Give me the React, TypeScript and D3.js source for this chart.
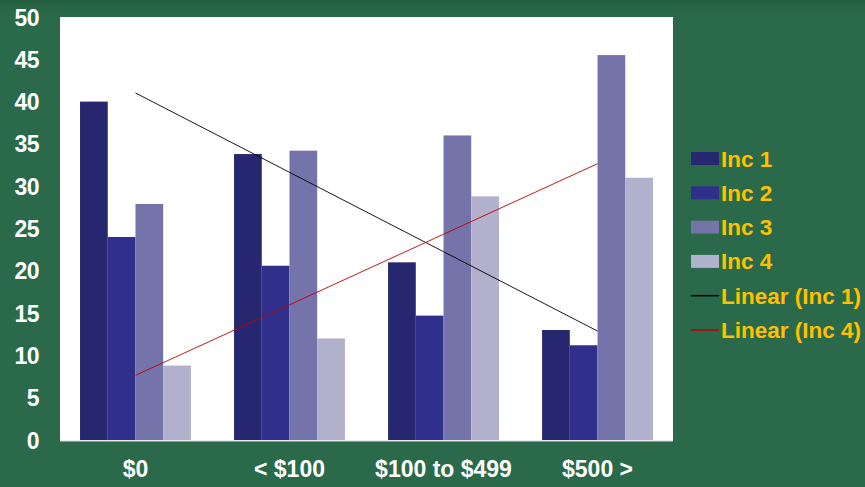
import React from "react";
import * as d3 from "d3";

const categories = ["$0", "< $100", "$100 to $499", "$500 >"];
const seriesNames = ["Inc 1", "Inc 2", "Inc 3", "Inc 4"];
const inc1 = [40, 33.8, 21, 13];
const inc2 = [24, 20.6, 14.7, 11.2];
const inc3 = [27.9, 34.2, 36, 45.5];
const inc4 = [8.8, 12, 28.8, 31];
const yTicks = [0, 5, 10, 15, 20, 25, 30, 35, 40, 45, 50];
const colors = ["#27276f", "#30308c", "#7474aa", "#b1b1cd"];
const trendNames = ["Linear (Inc 1)", "Linear (Inc 4)"];
const trendColors = ["#000000", "#c00000"];

function linreg(vals: number[]) {
  const xs = vals.map((_, i) => i + 1);
  const mx = d3.mean(xs)!;
  const my = d3.mean(vals)!;
  let num = 0, den = 0;
  xs.forEach((x, i) => { num += (x - mx) * (vals[i] - my); den += (x - mx) * (x - mx); });
  const slope = num / den;
  return xs.map((x) => my + slope * (x - mx));
}

export default function App() {
  const W = 865, H = 487;
  const left = 60, right = 673, top = 17, bottom = 440;
  const series = [inc1, inc2, inc3, inc4];
  const x0 = d3.scaleBand<string>().domain(categories).range([left, right]).paddingInner(0.28).paddingOuter(0.13);
  const x1 = d3.scaleBand<string>().domain(seriesNames).range([0, x0.bandwidth()]);
  const y = d3.scaleLinear().domain([0, 50]).range([bottom, top]);
  const trends = [linreg(inc1), linreg(inc4)];
  const line = d3.line<number>()
    .x((_, i) => x0(categories[i])! + x0.bandwidth() / 2)
    .y((v) => y(v));
  const font = "'Liberation Sans', Arial, sans-serif";
  const legendY0 = 158.5, legendStep = 34.3;
  const legendItems = [...seriesNames, ...trendNames];
  return (
    <svg width={W} height={H} style={{ position: "absolute", left: 0, top: 0 }} fontFamily={font}>
      <defs>
        <linearGradient id="bg" x1="0" y1="0" x2="0" y2="1">
          <stop offset="0" stopColor="#24603f" />
          <stop offset="0.03" stopColor="#2a6a4a" />
          <stop offset="1" stopColor="#2a6a4a" />
        </linearGradient>
      </defs>
      <rect x={0} y={0} width={W} height={H} fill="url(#bg)" />
      <rect x={left} y={top} width={right - left} height={bottom - top + 1} fill="#ffffff" />
      <line x1={left} x2={right} y1={bottom + 1} y2={bottom + 1} stroke="#d8d8e0" strokeWidth={1} />
      {categories.map((c, ci) => (
        <g key={c} transform={`translate(${x0(c)},0)`}>
          {series.map((s, si) => (
            <rect key={si} x={x1(seriesNames[si])} y={y(s[ci])} width={x1.bandwidth()} height={bottom - y(s[ci])} fill={colors[si]} />
          ))}
        </g>
      ))}
      {trends.map((t, i) => (
        <path key={i} d={line(t)!} fill="none" stroke={trendColors[i]} strokeWidth={0.9} />
      ))}
      {yTicks.map((t) => (
        <text key={t} x={39} y={y(t) + 8.5} textAnchor="end" fill="#ffffff" fontWeight="bold" fontSize={23} letterSpacing={-0.5}>{t}</text>
      ))}
      {categories.map((c) => (
        <text key={c} x={x0(c)! + x0.bandwidth() / 2} y={477} textAnchor="middle" fill="#ffffff" fontWeight="bold" fontSize={23}>{c}</text>
      ))}
      {legendItems.map((name, i) => {
        const cy = legendY0 + i * legendStep;
        return (
          <g key={name}>
            {i < 4 ? (
              <rect x={691} y={cy - 6.5} width={28} height={13} fill={colors[i]} />
            ) : (
              <line x1={691} x2={719} y1={cy} y2={cy} stroke={trendColors[i - 4]} strokeWidth={1.5} />
            )}
            <text x={721} y={cy + 8} fill="#ffc000" fontWeight="bold" fontSize={22.5}>{name}</text>
          </g>
        );
      })}
    </svg>
  );
}
